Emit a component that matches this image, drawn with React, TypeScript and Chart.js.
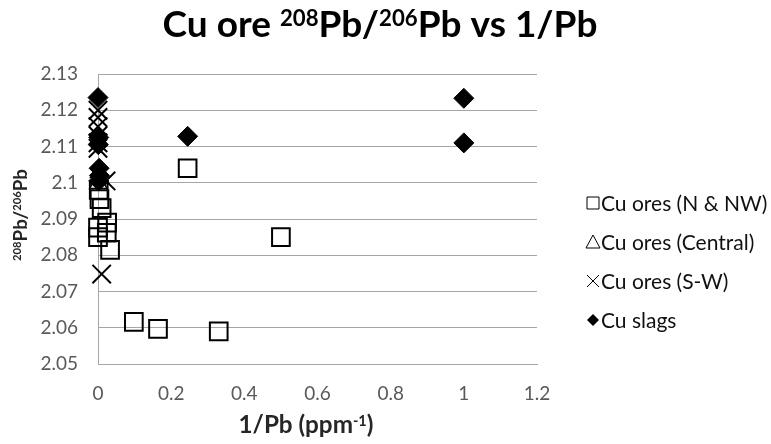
import React, { useEffect, useRef } from 'react';
import { Chart, registerables } from 'chart.js';

Chart.register(...registerables);

// ---- Data ----
const nNwX = [0.002, 0.004, 0.01, 0.025, 0.0, 0.024, 0.0, 0.033, 0.098, 0.164, 0.33, 0.245, 0.5];
const nNwY = [2.098, 2.0955, 2.093, 2.089, 2.0876, 2.0862, 2.085, 2.0815, 2.0616, 2.0597, 2.059, 2.104, 2.085];

const centralX = [0.003, 0.006, 0.001];
const centralY = [2.1028, 2.1012, 2.0998];

const swX = [0.0, 0.0, 0.0, 0.0, 0.0, 0.0, 0.022, 0.01];
const swY = [2.12, 2.118, 2.1155, 2.113, 2.111, 2.1095, 2.1005, 2.0748];

const slagX = [0.0, 0.002, 0.001, 0.003, 0.004, 0.002, 0.245, 1.0, 1.0];
const slagY = [2.1235, 2.1125, 2.1105, 2.104, 2.102, 2.1005, 2.1128, 2.1233, 2.111];

const seriesLabels = ['Cu ores (N & NW)', 'Cu ores (Central)', 'Cu ores (S-W)', 'Cu slags'];

const xTicks = [0, 0.2, 0.4, 0.6, 0.8, 1, 1.2];
const yTicks = [2.05, 2.06, 2.07, 2.08, 2.09, 2.1, 2.11, 2.12, 2.13];

// rich-text pieces: [text, isSuperscript]
type Part = [string, boolean];
const titleParts: Part[] = [
  ['Cu ore ', false],
  ['208', true],
  ['Pb/', false],
  ['206', true],
  ['Pb vs 1/Pb', false],
];
const yTitleParts: Part[] = [
  ['208', true],
  ['Pb/', false],
  ['206', true],
  ['Pb', false],
];
const xTitleParts: Part[] = [
  ['1/Pb (ppm', false],
  ['-1', true],
  [')', false],
];

const FONT = "Lato, 'Noto Sans', 'DejaVu Sans', sans-serif";

const toPts = (xs: number[], ys: number[]) => xs.map((x, i) => ({ x, y: ys[i] }));

// draws bold rich text with superscripts, scaled to a target width, centred at (cx, baseline)
function drawRich(
  ctx: CanvasRenderingContext2D,
  parts: Part[],
  targetWidth: number,
  cx: number,
  baseline: number,
  color: string,
) {
  const supScale = 0.6;
  const measure = (size: number) => {
    let w = 0;
    for (const [t, sup] of parts) {
      ctx.font = `bold ${sup ? size * supScale : size}px ${FONT}`;
      w += ctx.measureText(t).width;
    }
    return w;
  };
  const base = 20;
  const size = base * (targetWidth / measure(base));
  let x = cx - measure(size) / 2;
  ctx.fillStyle = color;
  ctx.textBaseline = 'alphabetic';
  ctx.textAlign = 'left';
  for (const [t, sup] of parts) {
    ctx.font = `bold ${sup ? size * supScale : size}px ${FONT}`;
    ctx.fillText(t, x, sup ? baseline - size * 0.3 : baseline);
    x += ctx.measureText(t).width;
  }
}

function drawLegendMarker(ctx: CanvasRenderingContext2D, style: string, x: number, y: number) {
  ctx.save();
  ctx.strokeStyle = '#000';
  ctx.fillStyle = '#000';
  ctx.lineWidth = 1;
  ctx.beginPath();
  if (style === 'rect') {
    ctx.rect(x - 6, y - 6, 12, 12);
    ctx.stroke();
  } else if (style === 'triangle') {
    ctx.moveTo(x, y - 7);
    ctx.lineTo(x + 7, y + 6);
    ctx.lineTo(x - 7, y + 6);
    ctx.closePath();
    ctx.stroke();
  } else if (style === 'crossRot') {
    ctx.moveTo(x - 6, y - 6);
    ctx.lineTo(x + 6, y + 6);
    ctx.moveTo(x + 6, y - 6);
    ctx.lineTo(x - 6, y + 6);
    ctx.stroke();
  } else {
    ctx.moveTo(x, y - 6);
    ctx.lineTo(x + 6, y);
    ctx.lineTo(x, y + 6);
    ctx.lineTo(x - 6, y);
    ctx.closePath();
    ctx.fill();
  }
  ctx.restore();
}

const sideLegend = {
  id: 'sideLegend',
  afterDraw(chart: any) {
    const ctx: CanvasRenderingContext2D = chart.ctx;
    const top = 203;
    const step = 39;
    const mx = 593;
    chart.data.datasets.forEach((ds: any, i: number) => {
      const y = top + i * step;
      drawLegendMarker(ctx, ds.pointStyle, mx, y);
      ctx.save();
      ctx.fillStyle = '#111';
      ctx.font = `21px ${FONT}`;
      ctx.textBaseline = 'middle';
      ctx.textAlign = 'left';
      ctx.fillText(ds.label, mx + 8, y + 1);
      ctx.restore();
    });
  },
};

const richTitles = {
  id: 'richTitles',
  afterDraw(chart: any) {
    const ctx: CanvasRenderingContext2D = chart.ctx;
    ctx.save();
    // main title
    drawRich(ctx, titleParts, 435, 380, 37, '#000');
    // x axis title
    const area = chart.chartArea;
    drawRich(ctx, xTitleParts, 135, 306, 433, '#262626');
    // y axis title (rotated)
    ctx.save();
    ctx.translate(27, (area.top + area.bottom) / 2 - 4);
    ctx.rotate(-Math.PI / 2);
    drawRich(ctx, yTitleParts, 92, 0, 0, '#262626');
    ctx.restore();
    ctx.restore();
  },
};

export default function App() {
  const ref = useRef<HTMLCanvasElement | null>(null);

  useEffect(() => {
    document.body.style.margin = '0';
    const canvas = ref.current;
    if (!canvas) return;
    const chart = new Chart(canvas, {
      type: 'scatter',
      data: {
        datasets: [
          {
            label: seriesLabels[0],
            data: toPts(nNwX, nNwY),
            pointStyle: 'rect',
            pointRadius: 12.5,
            pointBorderWidth: 2,
            pointBorderColor: '#000',
            pointBackgroundColor: 'rgba(0,0,0,0)',
            clip: false,
          },
          {
            label: seriesLabels[1],
            data: toPts(centralX, centralY),
            pointStyle: 'triangle',
            pointRadius: 10,
            pointBorderWidth: 1.5,
            pointBorderColor: '#000',
            pointBackgroundColor: 'rgba(0,0,0,0)',
            clip: false,
          },
          {
            label: seriesLabels[2],
            data: toPts(swX, swY),
            pointStyle: 'crossRot',
            pointRadius: 13,
            pointBorderWidth: 2,
            pointBorderColor: '#000',
            pointBackgroundColor: '#000',
            clip: false,
          },
          {
            label: seriesLabels[3],
            data: toPts(slagX, slagY),
            pointStyle: 'rectRot',
            pointRadius: 10,
            pointBorderWidth: 1,
            pointBorderColor: '#000',
            pointBackgroundColor: '#000',
            clip: false,
          },
        ] as any,
      },
      options: {
        animation: false,
        responsive: false,
        events: [],
        layout: { padding: { left: 0, right: 234, top: 74, bottom: 0 } },
        plugins: {
          legend: { display: false },
          tooltip: { enabled: false },
          title: { display: false },
        },
        scales: {
          x: {
            type: 'linear',
            min: 0,
            max: 1.2,
            afterFit: (s: any) => { s.height = 80; },
            afterBuildTicks: (s: any) => { s.ticks = xTicks.map((v) => ({ value: v })); },
            grid: { display: false, drawTicks: false },
            border: { display: true, color: '#a6a6a6', width: 1 },
            ticks: {
              color: '#595959',
              padding: 18,
              font: { family: FONT, size: 19 },
              callback: (v: any) => String(parseFloat(Number(v).toFixed(2))),
            },
            title: { display: false },
          },
          y: {
            type: 'linear',
            min: 2.05,
            max: 2.13,
            afterFit: (s: any) => { s.width = 98; },
            afterBuildTicks: (s: any) => { s.ticks = yTicks.map((v) => ({ value: v })); },
            grid: { display: true, drawTicks: false, color: '#a6a6a6', lineWidth: 1 },
            border: { display: true, color: '#a6a6a6', width: 1 },
            ticks: {
              color: '#595959',
              padding: 20,
              font: { family: FONT, size: 19 },
              callback: (v: any) => String(parseFloat(Number(v).toFixed(2))),
            },
            title: { display: false },
          },
        },
      },
      plugins: [sideLegend, richTitles],
    });
    return () => chart.destroy();
  }, []);

  return (
    <div style={{ width: 771, height: 444, background: '#fff' }}>
      <canvas ref={ref} width={771} height={444} style={{ display: 'block' }} />
    </div>
  );
}
